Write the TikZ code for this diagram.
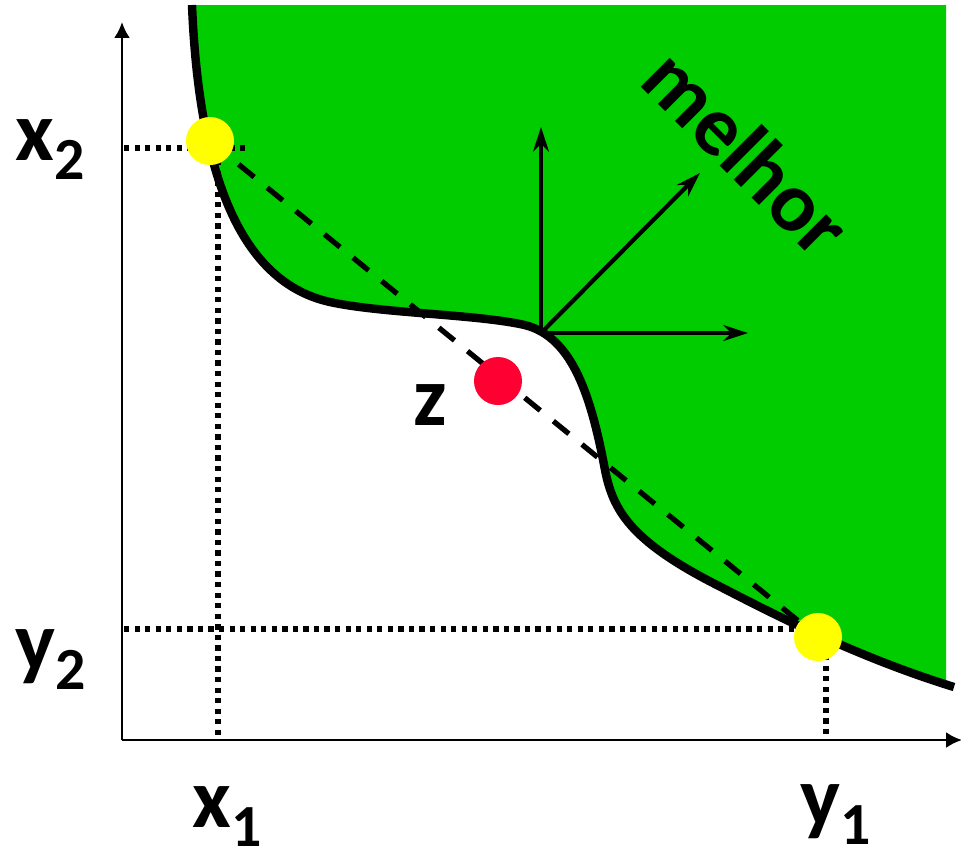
\documentclass[tikz,border=0pt]{standalone}
\usepackage{fontspec}
\setmainfont{Carlito}
\usetikzlibrary{arrows.meta, positioning}
\definecolor{regiongreen}{RGB}{0, 204, 0}
\definecolor{pointyellow}{RGB}{255, 255, 0}
\definecolor{pointred}{RGB}{255, 0, 51}
\newcommand{\lowidx}[1]{\raisebox{-5.5pt}{\fontsize{17}{17}\selectfont #1}}
\newcommand{\frontier}{(192,5) .. controls (198,150) and (230,280) .. (330,302) .. controls (380,313) and (470,314) .. (520,324) .. controls (570,333) and (590,390) .. (605,470) .. controls (613,510) and (630,540) .. (713,583) .. controls (760,607) and (850,655) .. (954,687)}

\begin{document}
\begin{tikzpicture}[
    x=0.01cm, y=-0.01cm,
    axis/.style={-{Latex[length=4.5pt,width=4.5pt]}, line width=0.7pt},
    guide/.style={line width=1.5pt, dash pattern=on 1.5pt off 1.5pt},
    chord/.style={line width=1.5pt, dash pattern=on 5.7pt off 4.8pt},
    vec/.style={-{Stealth[length=7pt,width=4.5pt]}, line width=1.2pt},
    point/.style={circle, minimum size=0.48cm, inner sep=0pt},
    lbl/.style={font=\fontsize{24}{24}\selectfont\bfseries, inner sep=0pt, anchor=base west}
]
\useasboundingbox (0,0) rectangle (961,856);

\begin{scope}
\clip (0,5) rectangle (946,860);
\fill[regiongreen] \frontier -- (960,5) -- cycle;
\end{scope}

\coordinate (o) at (122,740);
\coordinate (ytop) at (122,22);
\coordinate (xend) at (962,740);
\draw[axis] (o) -- (ytop);
\draw[axis] (o) -- (xend);

\coordinate (c1) at (210,141);
\coordinate (c2) at (818,637);
\coordinate (h2a) at (124,148);
\coordinate (h2b) at (250,148);
\coordinate (v1a) at (218,160);
\coordinate (v1b) at (218,738);
\coordinate (h1a) at (124,629);
\coordinate (h1b) at (805,629);
\coordinate (v2a) at (826,655);
\coordinate (v2b) at (826,738);
\draw[guide] (h2a) -- (h2b);
\draw[guide] (v1a) -- (v1b);
\draw[guide] (h1a) -- (h1b);
\draw[guide] (v2a) -- (v2b);

\draw[chord] (c1) -- (c2);
\draw[line width=2.4pt] \frontier;

\coordinate (v0) at (541,333);
\coordinate (vup) at (541,127);
\coordinate (vdiag) at (700,173);
\coordinate (vright) at (748,333);
\draw[vec] (v0) -- (vup);
\draw[vec] (v0) -- (vdiag);
\draw[vec] (v0) -- (vright);

\node[point, fill=pointyellow] (p1) at (c1) {};
\node[point, fill=pointyellow] (p2) at (c2) {};
\node[point, fill=pointred] (pz) at (498,381) {};

\node[lbl] (lx2) at (15,160) {x\lowidx{2}};
\node[lbl] (ly2) at (15,670) {y\lowidx{2}};
\node[lbl] (lx1) at (192,827) {x\lowidx{1}};
\node[lbl] (ly1) at (800,825) {y\lowidx{1}};
\node[lbl] (lz) at (413,425) {z};
\node[lbl, rotate=-45] (lbest) at (637,83) {melhor};

\end{tikzpicture}
\end{document}
